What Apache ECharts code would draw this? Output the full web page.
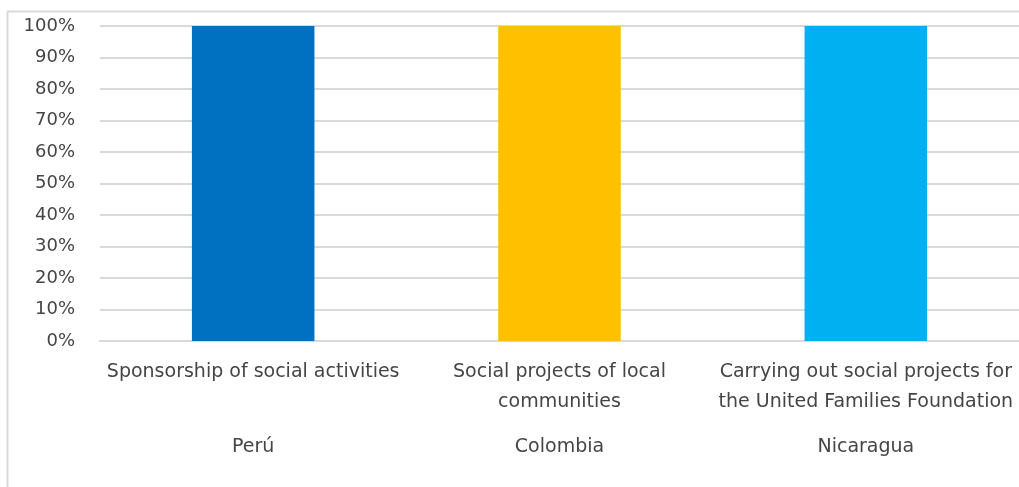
<!DOCTYPE html>
<html>
<head>
<meta charset="utf-8">
<script src="https://cdn.jsdelivr.net/npm/echarts@6/dist/echarts.min.js"></script>
<style>
  html, body { margin: 0; padding: 0; background: #ffffff; }
  #chart { width: 1019px; height: 487px; }
</style>
</head>
<body>
<div id="chart"></div>
<script>
// Activities (first label row) and countries (second label row)
const activities = [
  'Sponsorship of social activities',
  'Social projects of local\ncommunities',
  'Carrying out social projects for\nthe United Families Foundation'
];
const countries = ['Perú', 'Colombia', 'Nicaragua'];
const shares = [1, 1, 1];
const barColors = ['#0070C0', '#FFC000', '#00B0F0'];
const yTicks = { min: 0, max: 1, interval: 0.1 };

const textColor = '#454545';
const gridColor = '#d9d9d9';
const fontFamily = '"DejaVu Sans", "Open Sans", sans-serif';

const chart = echarts.init(document.getElementById('chart'));
chart.setOption({
  animation: false,
  graphic: [{
    type: 'rect',
    shape: { x: 7.5, y: 11.5, width: 1100, height: 600 },
    style: { fill: 'none', stroke: gridColor, lineWidth: 2 },
    silent: true
  }],
  grid: { left: 100, top: 26, width: 924, height: 315, containLabel: false },
  xAxis: [
    {
      type: 'category',
      data: activities,
      position: 'bottom',
      axisLine: { show: true, lineStyle: { color: gridColor, width: 2 } },
      axisTick: { show: false },
      axisLabel: {
        margin: 16, color: textColor, fontFamily, fontSize: 19,
        lineHeight: 30, interval: 0, verticalAlign: 'top'
      }
    },
    {
      type: 'category',
      data: countries,
      position: 'bottom',
      offset: 75,
      axisLine: { show: false },
      axisTick: { show: false },
      axisLabel: {
        margin: 16, color: textColor, fontFamily, fontSize: 19,
        lineHeight: 30, interval: 0, verticalAlign: 'top'
      }
    }
  ],
  yAxis: {
    type: 'value',
    min: yTicks.min, max: yTicks.max, interval: yTicks.interval,
    axisLine: { show: false },
    axisTick: { show: false },
    splitLine: { lineStyle: { color: gridColor, width: 2 } },
    axisLabel: {
      margin: 25, color: textColor, fontFamily, fontSize: 18,
      formatter: v => Math.round(v * 100) + '%'
    }
  },
  series: [{
    type: 'bar',
    xAxisIndex: 0,
    barWidth: '40%',
    data: shares.map((v, i) => ({ value: v, itemStyle: { color: barColors[i] } }))
  }]
});
</script>
</body>
</html>
